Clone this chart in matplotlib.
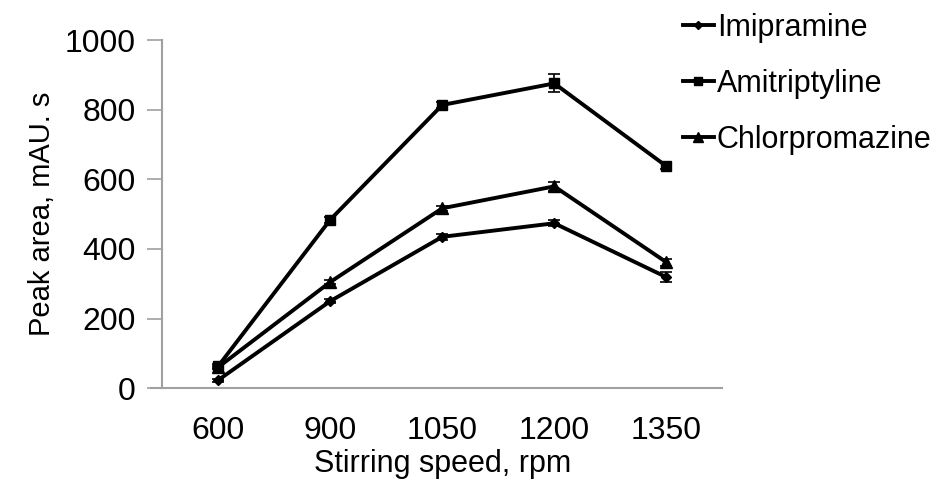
import numpy as np
import matplotlib
matplotlib.use("Agg")
import matplotlib.pyplot as plt
from matplotlib.lines import Line2D

plt.rcParams["font.family"] = ["Liberation Sans", "DejaVu Sans"]

speeds = ["600", "900", "1050", "1200", "1350"]
imipramine = [23, 250, 435, 474, 319]
imipramine_err = [4, 6, 8, 8, 15]
amitriptyline = [63, 484, 814, 876, 638]
amitriptyline_err = [5, 8, 8, 26, 8]
chlorpromazine = [60, 305, 517, 580, 362]
chlorpromazine_err = [4, 6, 8, 14, 10]

fig = plt.figure(figsize=(9.48, 4.97), dpi=100)
ax = fig.add_axes([0.171, 0.219, 0.591, 0.70])

x = np.arange(len(speeds))
kw = dict(color="black", lw=2.8, capsize=4, elinewidth=1.2, capthick=1.2)
series = [
    ("Imipramine", imipramine, imipramine_err, "D", 5.5),
    ("Amitriptyline", amitriptyline, amitriptyline_err, "s", 7.5),
    ("Chlorpromazine", chlorpromazine, chlorpromazine_err, "^", 8.5),
]
handles = []
for name, vals, err, mk, ms in series:
    ax.errorbar(x, vals, yerr=err, marker=mk, ms=ms, **kw)
    handles.append(Line2D([], [], color="black", lw=2.8, marker=mk, ms=ms * 0.8, label=name))

ax.set_xlim(-0.5, 4.5)
ax.set_ylim(0, 1000)
ax.set_yticks(range(0, 1001, 200))
ax.set_xticks(x, speeds)
ax.tick_params(axis="x", length=0, pad=20, labelsize=23)
ax.tick_params(axis="y", length=11, width=1.2, color="#a0a0a0", direction="out", pad=8, labelsize=23)
for s in ["top", "right"]:
    ax.spines[s].set_visible(False)
for s in ["left", "bottom"]:
    ax.spines[s].set_color("#a0a0a0")
    ax.spines[s].set_linewidth(1.5)
ax.spines["bottom"].set_bounds(-0.6, 4.5)
ax.spines["bottom"].set_clip_on(False)

ax.set_xlabel("Stirring speed, rpm", fontsize=22, labelpad=2)
ax.set_ylabel("Peak area, mAU. s", fontsize=21, labelpad=6)

ax.legend(handles=handles, loc="upper left", bbox_to_anchor=(0.908, 1.113), frameon=False, fontsize=22,
          handlelength=1.0, handletextpad=0.1, labelspacing=0.85, borderaxespad=0)

fig.savefig("out.png", dpi=100)
